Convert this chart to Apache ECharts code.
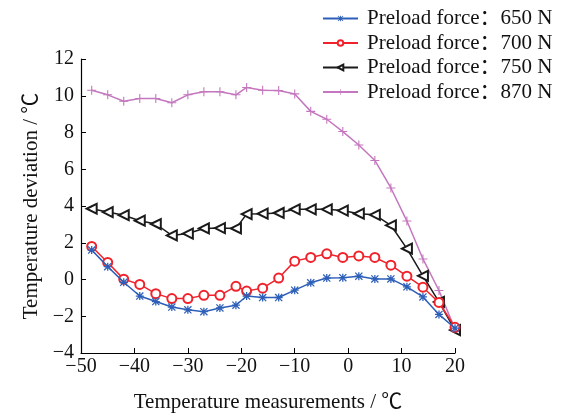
<!DOCTYPE html>
<html>
<head>
<meta charset="utf-8">
<script src="https://cdn.jsdelivr.net/npm/echarts@6/dist/echarts.min.js"></script>
<style>
  html, body { margin: 0; padding: 0; background: #fff; }
  #chart { width: 563px; height: 418px; }
</style>
</head>
<body>
<div id="chart"></div>
<script>
// temperature measurement points (℃)
var temps = [-48, -45, -42, -39, -36, -33, -30, -27, -24, -21, -19, -16, -13, -10, -7, -4, -1, 2, 5, 8, 11, 14, 17, 20]
var force650 = [1.6, 0.7, -0.15, -0.9, -1.2, -1.5, -1.65, -1.75, -1.55, -1.4, -0.9, -0.98, -0.98, -0.58, -0.18, 0.08, 0.1, 0.18, 0.03, 0.03, -0.4, -0.95, -1.9, -2.65]
var force700 = [1.8, 0.93, 0.02, -0.27, -0.77, -1.04, -1.04, -0.86, -0.86, -0.37, -0.63, -0.47, 0.08, 1.0, 1.2, 1.4, 1.2, 1.28, 1.2, 0.78, 0.18, -0.42, -1.25, -2.6]
var force750 = [3.85, 3.67, 3.5, 3.2, 3.02, 2.4, 2.5, 2.78, 2.8, 2.78, 3.56, 3.58, 3.62, 3.82, 3.82, 3.82, 3.75, 3.58, 3.52, 2.95, 1.68, 0.2, -1.22, -2.75]
var force870 = [10.3, 10.05, 9.7, 9.85, 9.85, 9.62, 10.05, 10.22, 10.22, 10.05, 10.45, 10.3, 10.28, 10.1, 9.15, 8.72, 8.05, 7.32, 6.48, 4.98, 3.18, 1.12, -0.6, -2.7]
var seriesNames = ['Preload force：650 N', 'Preload force：700 N', 'Preload force：750 N', 'Preload force：870 N']

var fontFamily = '"Liberation Serif", "Times New Roman", "Noto Sans CJK SC", serif'
// bolder 8-point asterisk and thin plus for the markers
var asterisk = 'path://M4.2,0H5.8V10H4.2Z M0,4.2H10V5.8H0Z M1.1,0L10,8.9L8.9,10L0,1.1Z M8.9,0L10,1.1L1.1,10L0,8.9Z'
var plus = 'path://M4.4,0H5.6V10H4.4Z M0,4.4H10V5.6H0Z'

function pairs (ys) {
  return ys.map(function (y, i) {
    return [temps[i], y]
  })
}
function minus (v) {
  return String(v).replace('-', '\u2212')
}

var chart = echarts.init(document.getElementById('chart'))
var option = {
  backgroundColor: '#fff',
  animation: false,
  legend: {
    orient: 'vertical',
    left: 317,
    top: 3,
    itemWidth: 35,
    itemHeight: 7,
    itemGap: 3.5,
    textStyle: {
      fontFamily: fontFamily,
      fontSize: 21,
      color: '#111',
      lineHeight: 21,
      padding: [0, 0, 0, 4]
    },
    data: seriesNames
  },
  grid: {
    left: 81,
    right: 108,
    top: 59,
    bottom: 61
  },
  xAxis: {
    type: 'value',
    min: -50,
    max: 20,
    interval: 10,
    name: 'Temperature measurements / ℃',
    nameLocation: 'middle',
    nameGap: 39,
    nameTextStyle: { fontFamily: fontFamily, fontSize: 21, color: '#111' },
    axisLine: { onZero: false, lineStyle: { color: '#000', width: 1.2 } },
    axisTick: { inside: true, length: 5, lineStyle: { color: '#000' } },
    splitLine: { show: false },
    axisLabel: {
      fontFamily: fontFamily,
      fontSize: 20,
      color: '#111',
      margin: 4,
      formatter: minus
    }
  },
  yAxis: {
    type: 'value',
    min: -4,
    max: 12,
    interval: 2,
    name: 'Temperature deviation / ℃',
    nameLocation: 'middle',
    nameGap: 38,
    nameTextStyle: { fontFamily: fontFamily, fontSize: 21, color: '#111' },
    axisLine: { show: true, onZero: false, lineStyle: { color: '#000', width: 1.2 } },
    axisTick: { show: true, inside: true, length: 5, lineStyle: { color: '#000' } },
    splitLine: { show: false },
    axisLabel: {
      fontFamily: fontFamily,
      fontSize: 20,
      color: '#111',
      margin: 7,
      formatter: minus
    }
  },
  series: [{
    name: seriesNames[0],
    type: 'line',
    data: pairs(force650),
    symbol: asterisk,
    symbolSize: 8,
    showAllSymbol: true,
    itemStyle: { color: '#2d5fb8' },
    lineStyle: { color: '#2d5fb8', width: 1.5 },
    z: 4
  }, {
    name: seriesNames[1],
    type: 'line',
    data: pairs(force700),
    symbol: 'emptyCircle',
    symbolSize: 9,
    showAllSymbol: true,
    itemStyle: { color: '#f0232c', borderWidth: 1.5 },
    lineStyle: { color: '#f0232c', width: 1.5 },
    z: 3
  }, {
    name: seriesNames[2],
    type: 'line',
    data: pairs(force750),
    symbol: 'emptyTriangle',
    symbolRotate: 90,
    symbolSize: 10,
    showAllSymbol: true,
    itemStyle: { color: '#1a1a1a', borderWidth: 1.3 },
    lineStyle: { color: '#1a1a1a', width: 1.5 },
    z: 2
  }, {
    name: seriesNames[3],
    type: 'line',
    data: pairs(force870),
    symbol: plus,
    symbolSize: 9,
    showAllSymbol: true,
    itemStyle: { color: '#c477be' },
    lineStyle: { color: '#c477be', width: 1.5 },
    z: 1
  }]
}
chart.setOption(option)
</script>
</body>
</html>
